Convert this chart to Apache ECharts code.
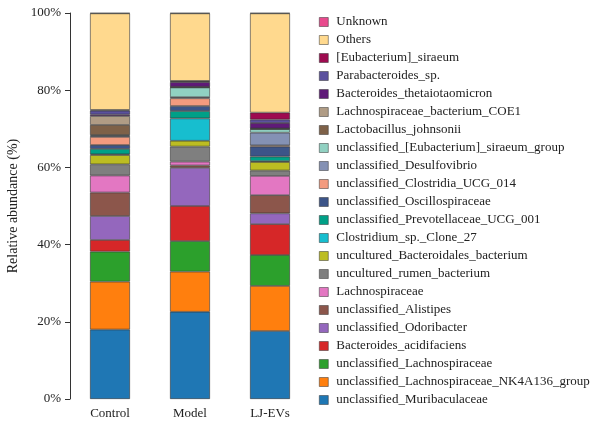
<!DOCTYPE html>
<html>
<head>
<meta charset="utf-8">
<script src="https://cdn.jsdelivr.net/npm/echarts@6/dist/echarts.min.js"></script>
<style>
  html, body { margin: 0; padding: 0; background: #fff; }
  #chart { width: 595px; height: 425px; }
</style>
</head>
<body>
<div id="chart"></div>
<script>
// Sample groups
const groups = ['Control', 'Model', 'LJ-EVs'];

// Relative abundance (%) of each taxon per group, stacked bottom to top
const muribaculaceae      = [18.0, 22.6, 17.6];
const lachnoNK4A136       = [12.4, 10.4, 11.7];
const unclLachnospiraceae = [7.8, 7.9, 8.0];
const bacAcidifaciens     = [3.0, 9.1, 8.0];
const odoribacter         = [6.2, 9.9, 2.8];
const alistipes           = [6.1, 0.6, 4.7];
const lachnospiraceae     = [4.4, 1.0, 5.0];
const rumenBacterium      = [2.9, 3.9, 1.4];
const bacteroidales       = [2.4, 1.5, 2.2];
const clostridiumClone27  = [0.2, 5.8, 0.2];
const prevotellaceae      = [1.4, 1.9, 1.2];
const oscillospiraceae    = [1.0, 1.3, 2.6];
const clostridiaUCG014    = [2.1, 2.0, 0.3];
const desulfovibrio       = [0.3, 0.3, 3.3];
const eubSiraeumGroup     = [0.2, 2.5, 0.9];
const lactoJohnsonii      = [2.6, 0.1, 0.1];
const lachnoCOE1          = [2.3, 0.1, 0.1];
const bacThetaiota        = [0.4, 1.2, 1.4];
const parabacteroides     = [1.0, 0.2, 0.9];
const eubSiraeum          = [0.2, 0.1, 1.8];
const others              = [25.0, 17.5, 25.7];
const unknown             = [0.1, 0.1, 0.1];

// Y axis tick labels
const yTicks = [0, 20, 40, 60, 80, 100];

const taxa = [
  ['unclassified_Muribaculaceae', muribaculaceae, '#1f77b4'],
  ['unclassified_Lachnospiraceae_NK4A136_group', lachnoNK4A136, '#ff7f0e'],
  ['unclassified_Lachnospiraceae', unclLachnospiraceae, '#2ca02c'],
  ['Bacteroides_acidifaciens', bacAcidifaciens, '#d62728'],
  ['unclassified_Odoribacter', odoribacter, '#9467bd'],
  ['unclassified_Alistipes', alistipes, '#8c564b'],
  ['Lachnospiraceae', lachnospiraceae, '#e377c2'],
  ['uncultured_rumen_bacterium', rumenBacterium, '#7f7f7f'],
  ['uncultured_Bacteroidales_bacterium', bacteroidales, '#bcbd22'],
  ['Clostridium_sp._Clone_27', clostridiumClone27, '#17becf'],
  ['unclassified_Prevotellaceae_UCG_001', prevotellaceae, '#00a087'],
  ['unclassified_Oscillospiraceae', oscillospiraceae, '#3c5488'],
  ['unclassified_Clostridia_UCG_014', clostridiaUCG014, '#f39b7f'],
  ['unclassified_Desulfovibrio', desulfovibrio, '#8491b4'],
  ['unclassified_[Eubacterium]_siraeum_group', eubSiraeumGroup, '#91d1c2'],
  ['Lactobacillus_johnsonii', lactoJohnsonii, '#7e6148'],
  ['Lachnospiraceae_bacterium_COE1', lachnoCOE1, '#b09c85'],
  ['Bacteroides_thetaiotaomicron', bacThetaiota, '#5f1a78'],
  ['Parabacteroides_sp.', parabacteroides, '#5b519e'],
  ['[Eubacterium]_siraeum', eubSiraeum, '#9e0b50'],
  ['Others', others, '#ffd98e'],
  ['Unknown', unknown, '#e84a8d']
];

const serif = '"Liberation Serif", "DejaVu Serif", serif';

const series = taxa.map(([name, values, color]) => ({
  name: name,
  type: 'bar',
  stack: 'total',
  barWidth: 40,
  data: values,
  itemStyle: { color: color, borderColor: 'rgba(50,50,50,0.85)', borderWidth: 0.7 },
  emphasis: { disabled: true }
}));

const chart = echarts.init(document.getElementById('chart'), null, { renderer: 'canvas' });
chart.setOption({
  animation: false,
  backgroundColor: '#ffffff',
  grid: { left: 70, top: 13, width: 240, bottom: 26, containLabel: false },
  legend: {
    orient: 'vertical',
    left: 314,
    top: 8,
    icon: 'rect',
    itemWidth: 9,
    itemHeight: 9,
    itemGap: 0,
    data: taxa.map(t => t[0]).reverse(),
    itemStyle: { borderColor: 'rgba(50,50,50,0.85)', borderWidth: 0.6 },
    textStyle: { fontFamily: serif, fontSize: 13, color: '#222', lineHeight: 18, padding: [0, 0, 0, 3] }
  },
  xAxis: {
    type: 'category',
    data: groups,
    axisLine: { show: false },
    axisTick: { show: false },
    axisLabel: { fontFamily: serif, fontSize: 13, color: '#222', margin: 8 }
  },
  yAxis: {
    type: 'value',
    min: yTicks[0],
    max: yTicks[yTicks.length - 1],
    interval: 20,
    name: 'Relative abundance (%)',
    nameLocation: 'middle',
    nameGap: 50,
    nameTextStyle: { fontFamily: serif, fontSize: 14, color: '#222' },
    axisLine: { show: true, lineStyle: { color: '#333', width: 1 } },
    axisTick: { show: true, length: 5, lineStyle: { color: '#333' } },
    axisLabel: { fontFamily: serif, fontSize: 13, color: '#222', margin: 9, formatter: '{value}%' },
    splitLine: { show: false }
  },
  series: series
});
</script>
</body>
</html>
